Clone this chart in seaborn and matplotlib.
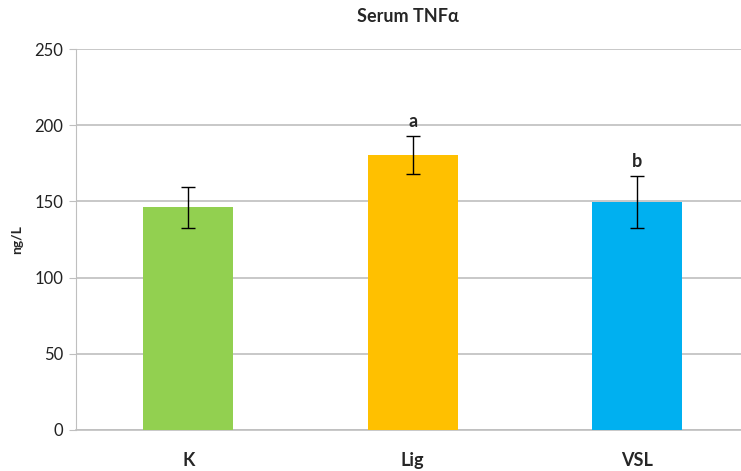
import matplotlib
matplotlib.use('Agg')
import matplotlib.pyplot as plt
import seaborn as sns
import pandas as pd

groups = ['K', 'Lig', 'VSL']
means = [146, 180.5, 149.5]
errors = [13.6, 12.7, 17.2]
letters = ['', 'a', 'b']
colors = ['#92D050', '#FFC000', '#00B0F0']

sns.set_style('white')
plt.rcParams['font.family'] = ['Lato', 'DejaVu Sans']

df = pd.DataFrame({'group': groups, 'mean': means, 'err': errors})

fig = plt.figure(figsize=(7.41, 4.71), dpi=100)
ax = fig.add_axes([76 / 741, 41 / 471, 673.5 / 741, 381 / 471])

sns.barplot(data=df, x='group', y='mean', hue='group', palette=colors,
            width=0.4, saturation=1, linewidth=0, legend=False, ax=ax, zorder=3)
ax.errorbar(range(len(groups)), df['mean'], yerr=df['err'], fmt='none',
            ecolor='black', elinewidth=1, capsize=5, capthick=1, zorder=4)

for i, (m, e, t) in enumerate(zip(means, errors, letters)):
    if t:
        ax.annotate(t, (i, m + e), xytext=(0, 4), textcoords='offset points',
                    ha='center', va='bottom', fontsize=13, fontweight='bold')

ax.set_ylim(0, 250)
ax.set_xlim(-0.5, 2.5)
ax.set_yticks(range(0, 251, 50))
ax.yaxis.grid(True, color='#BFBFBF', linewidth=1.2, zorder=0)
ax.xaxis.grid(False)
for s in ['top', 'right']:
    ax.spines[s].set_visible(False)
ax.spines['left'].set_color('#BFBFBF')
ax.spines['bottom'].set_color('#BFBFBF')
ax.spines['bottom'].set_linewidth(1.2)
ax.tick_params(axis='y', left=True, length=5, color='#BFBFBF',
               labelsize=12, labelcolor='#222222', pad=4)
ax.tick_params(axis='x', bottom=False, labelsize=13, pad=12)
for lbl in ax.get_xticklabels():
    lbl.set_fontweight('bold')

ax.set_xlabel('')
ax.set_ylabel('ng/L', fontsize=10, fontweight='bold', labelpad=8)
fig.text(408 / 741, 1 - 17 / 471, 'Serum TNF\u03b1', ha='center', va='center',
         fontsize=13, fontweight='bold')

fig.savefig('out.png', dpi=100)
